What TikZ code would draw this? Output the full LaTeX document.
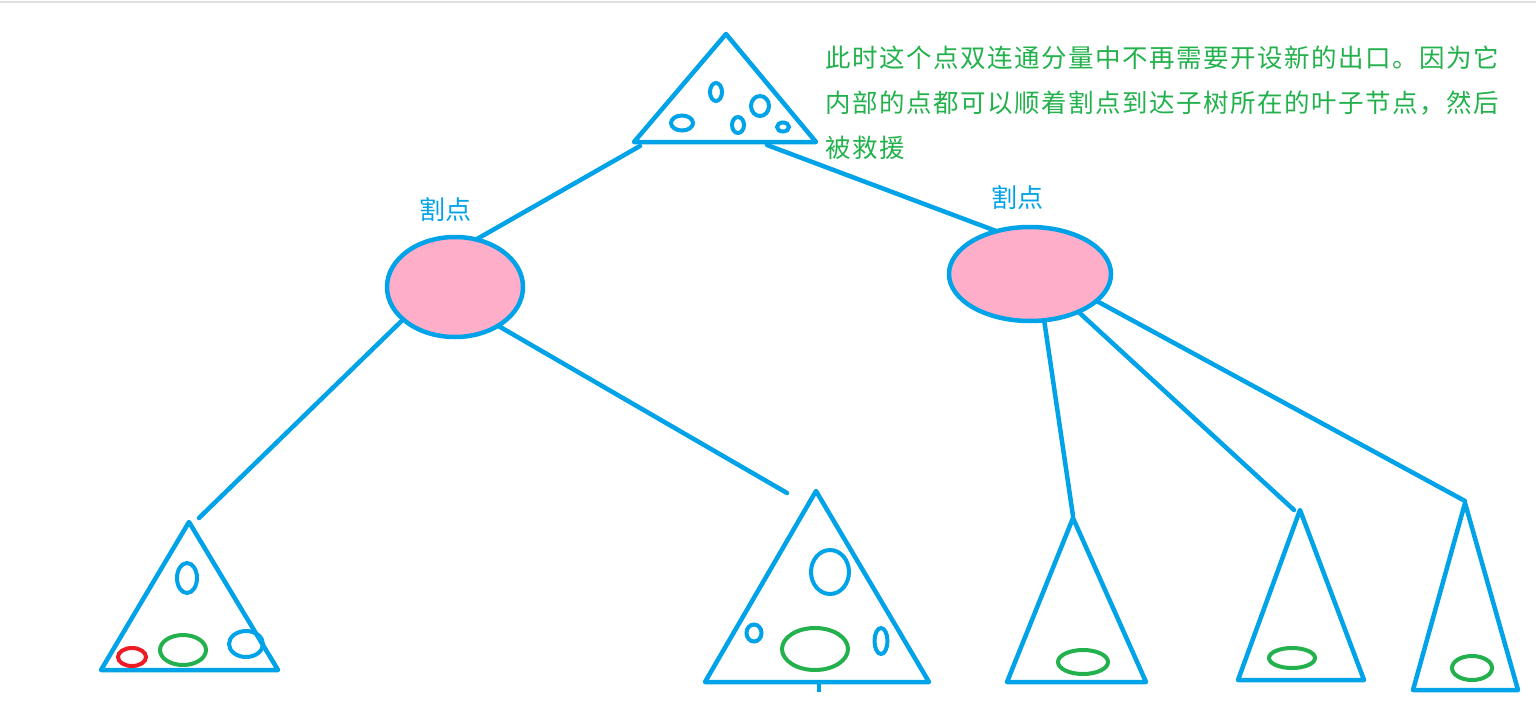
\documentclass[tikz,border=0pt]{standalone}
\usepackage{fontspec}
\newfontfamily\cjk{Noto Sans CJK SC}
\usetikzlibrary{shapes.geometric}
\definecolor{pblue}{HTML}{00A2E8}
\definecolor{ppink}{HTML}{FFAEC9}
\definecolor{pgreen}{HTML}{22B14C}
\definecolor{pred}{HTML}{ED1C24}
\tikzset{
  edge/.style={draw=pblue, line width=4.5pt, line cap=round},
  tri/.style={draw=pblue, line width=4.5pt, line join=round},
  cutv/.style={ellipse, draw=pblue, fill=ppink, line width=4.5pt, inner sep=0pt, outer sep=0pt},
  hole/.style={line width=4pt},
  lbl/.style={font=\cjk\fontsize{26}{30}\selectfont, inner sep=0pt},
}
\begin{document}
\begin{tikzpicture}[x=1pt,y=-1pt]
\useasboundingbox (0,0) rectangle (1536,726);
\draw[gray!25, line width=1.5pt] (0,2) -- (1536,2);

% root block with its inner points
\draw[tri] (726,34) -- (816,142) -- (634,142) -- cycle;
\draw[pblue, hole] (716,92) ellipse (6 and 9);
\draw[pblue, hole] (760,106) ellipse (9 and 10);
\draw[pblue, hole] (682,123) ellipse (11 and 7.5);
\draw[pblue, hole] (738,125) ellipse (6 and 8);
\draw[pblue, hole] (783,127) ellipse (6 and 4.5);
\coordinate (rootL) at (640,146);
\coordinate (rootR) at (767,145);

% note
\node[lbl, text=pgreen, anchor=west, align=left,
      font=\cjk\fontsize{25.5}{45}\selectfont\addfontfeature{LetterSpace=6}]
  (note) at (825,103)
  {此时这个点双连通分量中不再需要开设新的出口。因为它\\
   内部的点都可以顺着割点到达子树所在的叶子节点，然后\\
   被救援};

% cut vertices
\node[cutv, minimum width=136pt, minimum height=100pt] (c1) at (455,287) {};
\node[cutv, minimum width=162pt, minimum height=94pt] (c2) at (1030,274) {};
\node[lbl, text=pblue] (l1) at (445,210) {割点};
\node[lbl, text=pblue] (l2) at (1017,198) {割点};

% left subtree
\draw[tri] (189,522) -- (278,670) -- (101,670) -- cycle;
\draw[pblue, hole] (187,578) ellipse (10 and 15);
\draw[pred, hole] (132,657) ellipse (14 and 9);
\draw[pgreen, hole] (183,650) ellipse (23 and 15);
\draw[pblue, hole] (246,644) ellipse (17 and 13);
\coordinate (t1) at (199,518);

% middle subtree
\draw[tri] (816,491) -- (929,682) -- (705,682) -- cycle;
\draw[pblue, hole] (830,572) ellipse (19 and 22);
\draw[pgreen, hole] (815,649) ellipse (33 and 21);
\draw[pblue, hole] (754,633) ellipse (7.5 and 8.5);
\draw[pblue, hole] (881,641) ellipse (6.5 and 13);
\draw[pblue, line width=3.5pt] (819,684) -- (819,692);
\coordinate (t2) at (787,493);

% leaves under the second cut vertex
\draw[tri] (1073,518) -- (1146,682) -- (1007,682) -- cycle;
\draw[pgreen, hole] (1083,662) ellipse (25 and 12);
\draw[tri] (1300,510) -- (1364,680) -- (1238,680) -- cycle;
\draw[pgreen, hole] (1292,658) ellipse (23 and 10);
\draw[tri] (1465,503) -- (1518,690) -- (1413,690) -- cycle;
\draw[pgreen, hole] (1472,668) ellipse (20 and 12);
\coordinate (t3) at (1073,516);
\coordinate (t4) at (1294,510);
\coordinate (t5) at (1465,501);

% connectors
\draw[edge] (rootL) -- (c1.66);
\draw[edge] (rootR) -- (c2.128);
\draw[edge] (c1.212) -- (t1);
\draw[edge] (c1.318) -- (t2);
\draw[edge] (c2.287) -- (t3);
\draw[edge] (c2.322) -- (t4);
\draw[edge] (c2.338) -- (t5);
\end{tikzpicture}
\end{document}
